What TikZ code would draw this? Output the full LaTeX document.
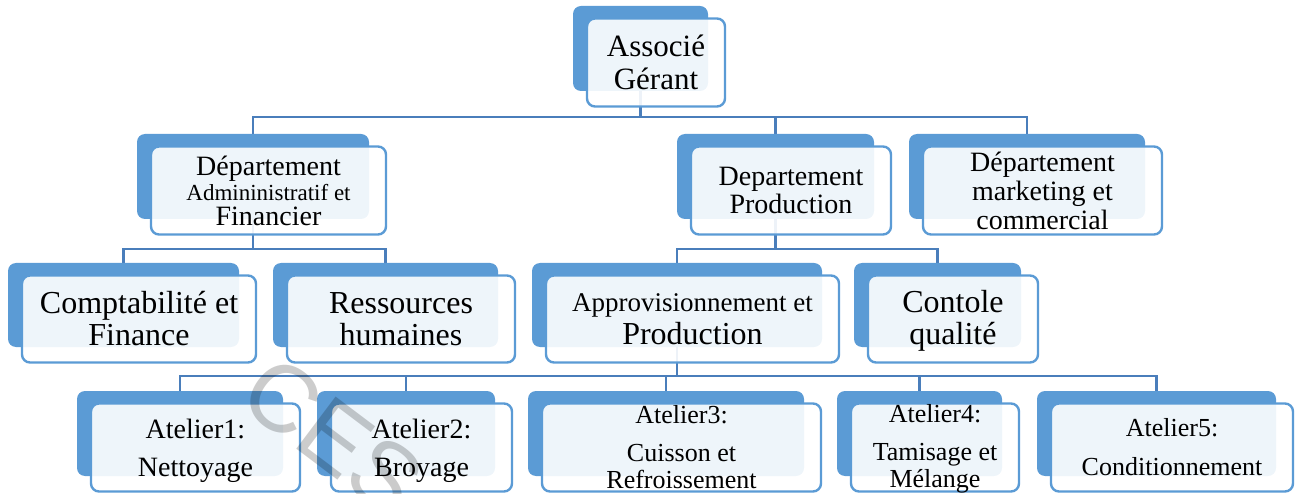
\documentclass[tikz,border=0pt]{standalone}
\usepackage{fontspec}
\setmainfont{Liberation Serif}
\newfontfamily\wmfont{Liberation Sans}
\usetikzlibrary{backgrounds}
\definecolor{boxblue}{HTML}{5B9BD5}
\definecolor{linkblue}{HTML}{4A7EBB}
\tikzset{
  backbox/.style={draw=none, fill=boxblue, rounded corners=8pt, inner sep=0pt, outer sep=0pt},
  frontbox/.style={draw=boxblue, line width=2.4pt, fill=white, fill opacity=0.9, rounded corners=8pt, inner sep=0pt, outer sep=0pt},
  txtnode/.style={align=center, inner sep=0pt, outer sep=0pt, text=black},
  link/.style={draw=linkblue, line width=2.2pt},
}
\newcommand\orgnode[5]{%
  \node[backbox, minimum width={(#4)-(#2)}, minimum height={(#5)-(#3)}] (#1) at ({((#2)+(#4))/2},{((#3)+(#5))/2}) {};
  \node[frontbox, minimum width={(#4)-(#2)+3}, minimum height={(#5)-(#3)+3}] (#1-f) at ({((#2)+(#4))/2+15.5},{((#3)+(#5))/2+14}) {};
}
\begin{document}
\begin{tikzpicture}[x=1pt,y=-1pt]
\useasboundingbox (0,0) rectangle (1298,494);
% boxes
\orgnode{root}{573}{6}{708}{91}
\orgnode{adm}{137}{134}{369}{219}
\orgnode{prod}{677}{134}{874}{219}
\orgnode{mkt}{909}{134}{1145}{219}
\orgnode{cpt}{8}{263}{239}{347}
\orgnode{rh}{273}{263}{498}{347}
\orgnode{app}{532}{263}{822}{347}
\orgnode{cq}{854}{263}{1021}{347}
\orgnode{a1}{77}{391}{283}{476}
\orgnode{a2}{317}{391}{495}{476}
\orgnode{a3}{528}{391}{804}{476}
\orgnode{a4}{837}{391}{1002}{476}
\orgnode{a5}{1037}{391}{1276}{476}
% texts
\node[txtnode, font=\fontsize{31}{33}\selectfont] (root-t) at (root-f) {Associé\\Gérant};
\node[txtnode, font=\fontsize{28}{25}\selectfont] (adm-t) at (adm-f) {Département\\{\fontsize{23}{25}\selectfont Admininistratif et}\\Financier};
\node[txtnode, font=\fontsize{28}{28}\selectfont] (prod-t) at (prod-f) {Departement\\Production};
\node[txtnode, font=\fontsize{28}{29}\selectfont] (mkt-t) at (mkt-f) {Département\\marketing et\\commercial};
\node[txtnode, font=\fontsize{32}{32}\selectfont] (cpt-t) at (cpt-f) {Comptabilité et\\Finance};
\node[txtnode, font=\fontsize{32}{32}\selectfont] (rh-t) at (rh-f) {Ressources\\humaines};
\node[txtnode, font=\fontsize{32}{33}\selectfont] (app-t) at (app-f) {{\fontsize{27}{33}\selectfont Approvisionnement et}\\Production};
\node[txtnode, font=\fontsize{32}{32}\selectfont, yshift=-2pt] (cq-t) at (cq-f) {Contole\\qualité};
\node[txtnode, font=\fontsize{28}{38}\selectfont, yshift=-3pt] (a1-t) at (a1-f) {Atelier1:\\Nettoyage};
\node[txtnode, font=\fontsize{28}{38}\selectfont, yshift=-3pt] (a2-t) at (a2-f) {Atelier2:\\Broyage};
\node[txtnode, font=\fontsize{26}{27}\selectfont] (a3-t) at (a3-f) {Atelier3:\\[11pt]Cuisson et\\Refroissement};
\node[txtnode, font=\fontsize{26}{27}\selectfont, yshift=-1pt] (a4-t) at (a4-f) {Atelier4:\\[11pt]Tamisage et\\Mélange};
\node[txtnode, font=\fontsize{26}{39}\selectfont] (a5-t) at (a5-f) {Atelier5:\\Conditionnement};
% connectors
\coordinate (bus1) at (0,117);
\coordinate (bus2) at (0,249);
\coordinate (bus3) at (0,376);
\begin{pgfonlayer}{background}
\draw[link] (root.south) -- (root.south |- bus1) -| (adm.north);
\draw[link] (root.south |- bus1) -| (prod.north);
\draw[link] (root.south |- bus1) -| (mkt.north);
\draw[link] (adm.south) -- (adm.south |- bus2) -| (cpt.north);
\draw[link] (adm.south |- bus2) -| (rh.north);
\draw[link] (prod.south) -- (prod.south |- bus2) -| (app.north);
\draw[link] (prod.south |- bus2) -| (cq.north);
\draw[link] (app.south) -- (app.south |- bus3) -| (a1.north);
\draw[link] (app.south |- bus3) -| (a2.north);
\draw[link] (app.south |- bus3) -| (a3.north);
\draw[link] (app.south |- bus3) -| (a4.north);
\draw[link] (app.south |- bus3) -| (a5.north);
\end{pgfonlayer}
% watermark
\node[rotate=-37, font=\wmfont\fontsize{95}{95}\selectfont, text=black, text opacity=0.2, inner sep=0pt] (wm) at (333,436) {CES};
\end{tikzpicture}
\end{document}
